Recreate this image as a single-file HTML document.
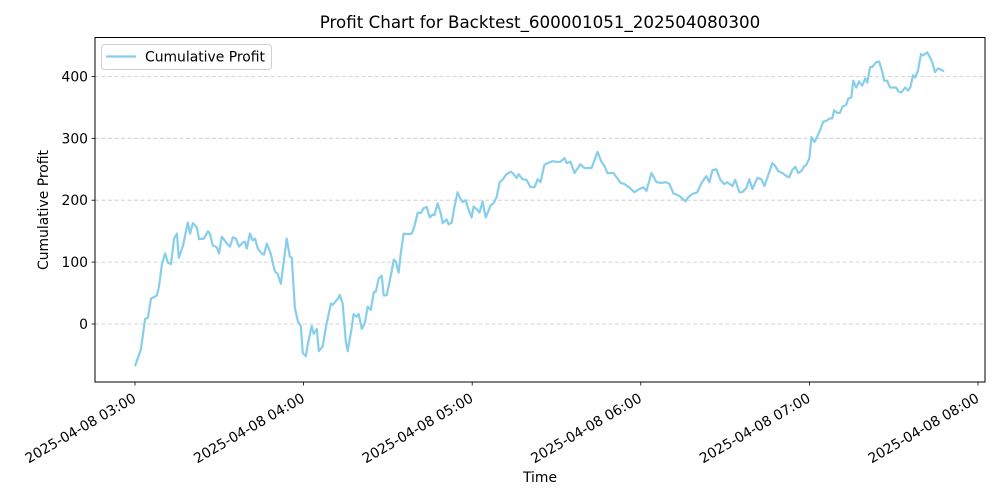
<!DOCTYPE html>
<html><head><meta charset="utf-8"><style>
body{margin:0;background:#fff;}
svg{display:block;font-family:"DejaVu Sans","Liberation Sans",sans-serif;}
</style></head><body>
<svg id="chart" width="1000" height="500" viewBox="0 0 1000 500"></svg>
<script>
const minutes=[0,2.1,2.5,3.6,4.6,5.7,7.8,8.5,9.6,10.7,11.7,12.8,13.9,14.9,15.6,17.1,18.8,19.6,20.6,22.0,22.8,24.5,26.0,26.7,27.7,29.1,29.9,30.9,32.7,33.8,34.8,35.9,37.0,38.4,39.1,39.8,40.9,41.9,42.7,43.7,45.1,45.9,46.9,48.3,49.1,49.8,50.8,51.9,52.6,54.0,55.1,55.8,56.9,57.9,59.0,59.7,60.8,61.5,62.9,63.6,64.7,65.4,66.8,67.9,69.7,70.4,72.2,72.9,73.9,75.0,75.7,77.1,77.8,78.9,79.6,80.7,81.8,82.8,83.9,85.0,85.7,86.7,87.8,88.5,89.6,91.4,92.1,92.8,93.8,94.6,95.6,97.0,98.5,99.5,100.6,101.7,102.7,103.8,104.9,105.9,106.6,107.7,108.8,109.5,110.9,111.6,112.7,113.8,114.8,115.5,116.6,117.7,118.4,119.8,120.5,121.9,122.6,123.7,124.8,126.6,127.6,128.7,129.8,130.8,132.2,133.7,134.4,135.8,136.5,137.9,139.3,140.8,142.2,143.3,144.3,145.7,146.8,148.6,150.0,151.4,152.9,153.6,155.0,156.4,158.5,160.0,162.5,164.6,166.0,167.1,168.1,170.3,172.8,174.2,176.0,177.7,179.5,180.9,182.0,183.8,185.6,187.3,189.1,190.2,191.6,193.7,195.9,196.9,198.4,200.1,201.6,203.3,204.4,205.5,206.9,208.3,209.7,210.8,212.6,213.6,215.1,216.1,217.6,218.6,219.7,221.5,222.9,224.0,225.4,226.8,227.9,228.9,230.4,231.8,232.8,233.9,235.0,236.0,237.1,238.2,238.9,240.0,240.7,241.8,242.4,243.9,244.9,246.0,247.1,248.1,248.8,249.9,250.9,251.7,253.1,253.8,254.9,255.6,256.7,257.7,258.8,259.9,260.6,261.6,262.3,263.8,264.8,265.9,266.6,267.7,268.7,269.8,270.9,271.6,272.7,274.1,275.1,275.9,276.9,277.6,278.7,279.7,280.5,281.9,282.9,283.7,284.7,285.8,287.2,287.9];
const profits=[-68,-41,-28,8,10,41,46,60,97,114,99,97,138,146,107,127,164,146,163,156,137,138,150,145,127,124,114,141,130,125,140,138,125,132,133,122,146,135,138,122,114,112,130,114,97,85,81,65,89,138,109,107,26,5,-3,-47,-52,-33,-3,-16,-8,-44,-36,-6,33,31,41,47,33,-28,-44,-6,16,12,16,-8,2,28,23,52,52,73,78,46,47,86,104,101,83,114,146,145,146,159,180,179,187,189,172,177,176,195,179,163,169,161,164,192,213,205,197,200,189,172,190,184,180,198,172,192,195,205,229,233,242,246,244,236,242,234,233,221,221,234,229,257,260,263,262,262,268,260,262,244,258,252,252,278,262,255,244,244,228,226,220,213,218,221,215,244,229,228,229,226,211,207,198,205,210,213,228,239,229,249,250,233,226,229,223,233,213,213,220,234,218,236,234,223,241,260,255,247,244,239,237,249,254,244,247,255,257,268,302,294,299,314,327,328,332,332,345,341,341,351,354,364,366,393,382,392,385,397,390,415,415,423,424,408,393,393,382,382,382,376,374,382,377,382,402,398,410,436,434,439,431,423,407,413,410,408];
const yTicks=[0,100,200,300,400];
const xTickMinutes=[0,60,120,180,240,300];
const xTickLabels=["2025-04-08 03:00","2025-04-08 04:00","2025-04-08 05:00","2025-04-08 06:00","2025-04-08 07:00","2025-04-08 08:00"];

const L=95,R=985,T=37.5,B=382;
const xs=m=>135+m*(168.6/60);
const ys=v=>324-v*0.619;
const NS="http://www.w3.org/2000/svg";
const svg=document.getElementById('chart');
function mk(tag,attrs,parent){const e=document.createElementNS(NS,tag);for(const k in attrs)e.setAttribute(k,attrs[k]);(parent||svg).appendChild(e);return e;}

yTicks.forEach(v=>{
  const y=ys(v);
  const g=mk('line',{x1:L,x2:R,y1:y,y2:y,stroke:'#c8c8c8','stroke-width':0.8,'stroke-dasharray':'4,2.5'});
  
  
  const t=mk('line',{x1:L-3.5,x2:L,y1:y,y2:y,stroke:'#000','stroke-width':0.8});
  
  
  const lb=mk('text',{x:L-7,y:y+5,'text-anchor':'end','font-size':13.9,fill:'#000'});
  lb.textContent=v;
  
  
});
xTickMinutes.forEach((m,i)=>{
  const x=xs(m);
  const t=mk('line',{x1:x,x2:x,y1:B,y2:B+3.5,stroke:'#000','stroke-width':0.8});
  
  
  const ax=x+2, ay=B+19;
  const lb=mk('text',{x:ax,y:ay,'text-anchor':'end','font-size':13.9,fill:'#000',transform:`rotate(-30 ${ax} ${ay})`});
  lb.textContent=xTickLabels[i];
  
  
});
const d=minutes.map((m,i)=>(i?'L':'M')+xs(m).toFixed(1)+','+ys(profits[i]).toFixed(1)).join(' ');
const p=mk('path',{d:d,fill:'none',stroke:'#87ceeb','stroke-width':2.2,'stroke-linejoin':'round'});


const fr=mk('rect',{x:L,y:T,width:R-L,height:B-T,fill:'none',stroke:'#000','stroke-width':1});


</script>
<div style="position:absolute;left:0;top:0;width:1000px;height:500px;pointer-events:none;">
<svg width="1000" height="500" style="position:absolute;left:0;top:0;font-family:'DejaVu Sans','Liberation Sans',sans-serif">
  <text x="540" y="28" text-anchor="middle" font-size="16.7">Profit Chart for Backtest_600001051_202504080300</text>
  <text x="540" y="482" text-anchor="middle" font-size="13.9">Time</text>
  <text x="48" y="210" text-anchor="middle" font-size="13.9" transform="rotate(-90 48 210)">Cumulative Profit</text>
  <g>
    <rect x="101.5" y="44.5" width="170" height="25" rx="3" fill="#fff" fill-opacity="0.8" stroke="#d0d0d0"/>
    <line x1="106" x2="136" y1="56.5" y2="56.5" stroke="#87ceeb" stroke-width="2.2"/>
    <text x="145" y="61.5" font-size="13.9">Cumulative Profit</text>
  </g>
</svg>
</div>
</body></html>
